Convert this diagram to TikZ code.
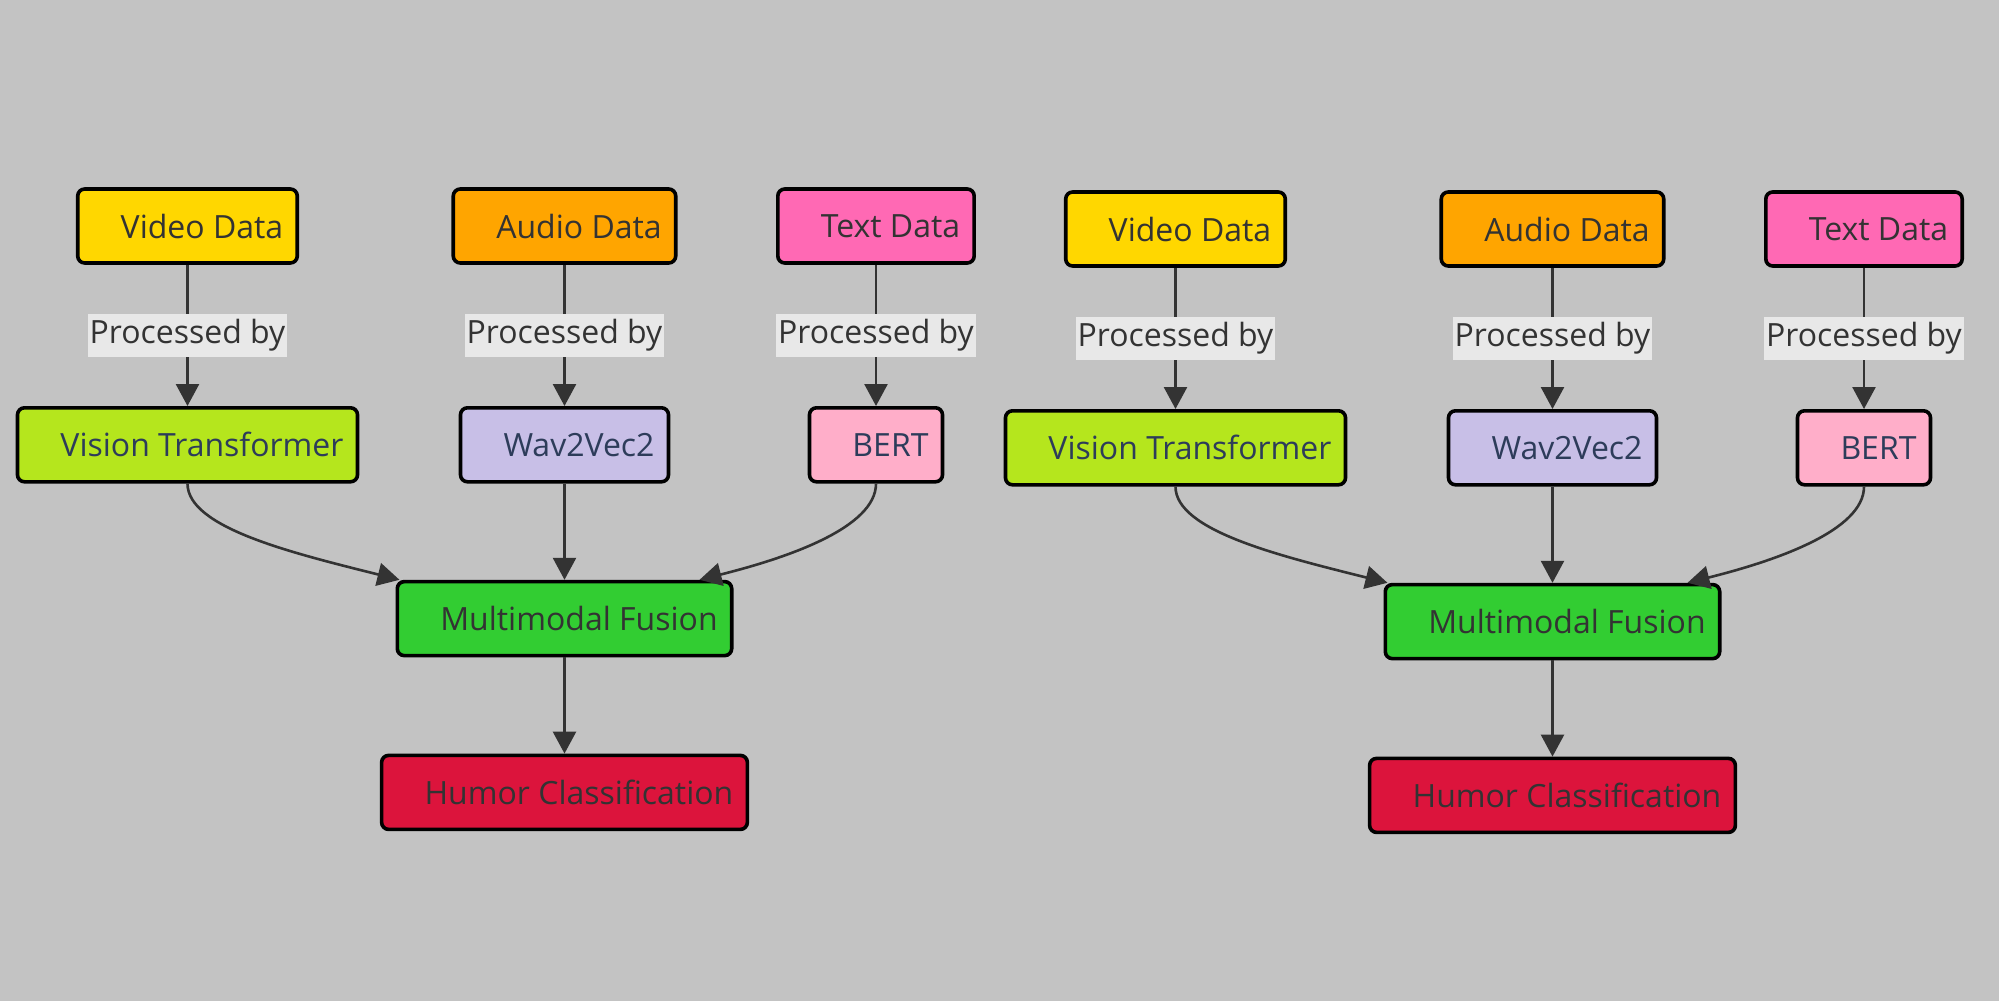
\documentclass[tikz,border=0pt]{standalone}
\usepackage{fontspec}
\setmainfont{Open Sans}
\usetikzlibrary{arrows.meta,positioning}
\definecolor{bggray}{HTML}{C3C3C3}
\definecolor{lablgray}{HTML}{E8E8E8}
\definecolor{linkgray}{HTML}{333333}
\definecolor{darktext}{HTML}{333333}
\definecolor{bluetext}{RGB}{45,60,90}
\definecolor{videofill}{HTML}{FFD700}
\definecolor{audiofill}{HTML}{FFA500}
\definecolor{textfill}{HTML}{FF69B4}
\definecolor{vitfill}{HTML}{B5E61D}
\definecolor{wavfill}{HTML}{C8BFE7}
\definecolor{bertfill}{HTML}{FFAEC9}
\definecolor{fusefill}{HTML}{32CD32}
\definecolor{humorfill}{HTML}{DC143C}
\tikzset{%
	>={Triangle[length=11pt,width=11.5pt]},
	block/.style={rectangle, rounded corners=3.5pt, draw=black, line width=1.8pt, minimum height=37pt, inner xsep=7pt, text=darktext, font=\fontsize{16pt}{19pt}\selectfont, execute at begin node={\hspace*{14.5pt}}},
	model/.style={block, text=bluetext},
	procby/.style={fill=lablgray, inner xsep=1pt, inner ysep=2.75pt, text=darktext, font=\fontsize{16pt}{19pt}\selectfont},
	link/.style={->, draw=linkgray, line width=1.3pt}
}
\begin{document}
\begin{tikzpicture}[node distance=48.1pt]
\fill[bggray] (0,0) rectangle (999.5pt,-500.5pt);
\useasboundingbox (0,0) rectangle (999.5pt,-500.5pt);

% left diagram
\node (vid1) [block, fill=videofill] at (93.75pt,-113pt) {Video Data};
\node (aud1) [block, fill=audiofill] at (282.25pt,-113pt) {Audio Data};
\node (txt1) [block, fill=textfill] at (438pt,-113pt) {Text Data};
\node (vit1) [model, fill=vitfill, below=70.6pt of vid1] {Vision Transformer};
\node (wav1) [model, fill=wavfill, below=70.6pt of aud1] {Wav2Vec2};
\node (bert1) [model, fill=bertfill, below=70.6pt of txt1] {BERT};
\node (mmf1) [block, fill=fusefill, below=of wav1] {Multimodal Fusion};
\node (hum1) [block, fill=humorfill, below=of mmf1] {Humor Classification};

\path (vid1) edge[link] node[procby] {Processed by} (vit1);
\path (aud1) edge[link] node[procby] {Processed by} (wav1);
\path (txt1) edge[link] node[procby] {Processed by} (bert1);
\draw[link] (vit1.south) .. controls +(0,-22pt) and +(-54pt,13.5pt) .. ([xshift=2pt]mmf1.north west);
\path (wav1) edge[link] (mmf1);
\draw[link] (bert1.south) .. controls +(0,-22pt) and +(44pt,11pt) .. ([xshift=-17pt]mmf1.north east);
\path (mmf1) edge[link] (hum1);

% right diagram
\node (vid2) [block, fill=videofill] at (587.75pt,-114.5pt) {Video Data};
\node (aud2) [block, fill=audiofill] at (776.25pt,-114.5pt) {Audio Data};
\node (txt2) [block, fill=textfill] at (932pt,-114.5pt) {Text Data};
\node (vit2) [model, fill=vitfill, below=70.6pt of vid2] {Vision Transformer};
\node (wav2) [model, fill=wavfill, below=70.6pt of aud2] {Wav2Vec2};
\node (bert2) [model, fill=bertfill, below=70.6pt of txt2] {BERT};
\node (mmf2) [block, fill=fusefill, below=of wav2] {Multimodal Fusion};
\node (hum2) [block, fill=humorfill, below=of mmf2] {Humor Classification};

\path (vid2) edge[link] node[procby] {Processed by} (vit2);
\path (aud2) edge[link] node[procby] {Processed by} (wav2);
\path (txt2) edge[link] node[procby] {Processed by} (bert2);
\draw[link] (vit2.south) .. controls +(0,-22pt) and +(-54pt,13.5pt) .. ([xshift=2pt]mmf2.north west);
\path (wav2) edge[link] (mmf2);
\draw[link] (bert2.south) .. controls +(0,-22pt) and +(44pt,11pt) .. ([xshift=-17pt]mmf2.north east);
\path (mmf2) edge[link] (hum2);

\end{tikzpicture}
\end{document}
